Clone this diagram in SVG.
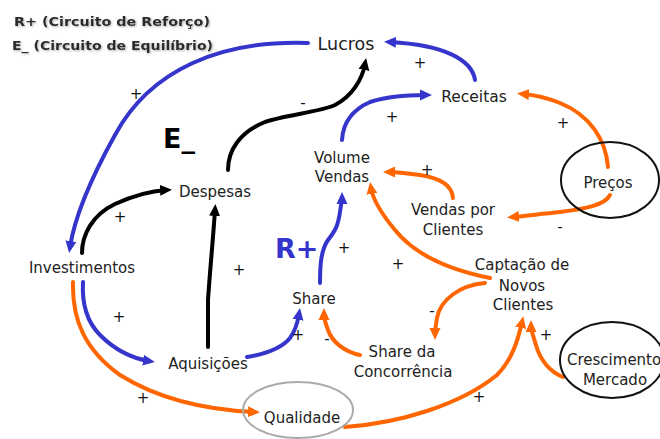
<svg xmlns="http://www.w3.org/2000/svg" width="660" height="439" viewBox="0 0 660 439">
<style>
.t{font-family:"DejaVu Sans","Liberation Sans",sans-serif;font-size:15px;fill:#222;text-anchor:middle}
.s{font-family:"DejaVu Sans","Liberation Sans",sans-serif;font-size:15px;fill:#111;text-anchor:middle}
.c{fill:none;stroke-width:4;stroke-linecap:round;stroke-linejoin:round}
.b{stroke:#3535cc}
.o{stroke:#ff6600}
.k{stroke:#000}
.leg{font-family:"DejaVu Sans","Liberation Sans",sans-serif;font-size:13px;font-weight:bold;fill:#2a2a2a}
.big{font-family:"DejaVu Sans","Liberation Sans",sans-serif;font-size:27px;font-weight:bold}
</style>
<defs>
<marker id="ab" markerUnits="userSpaceOnUse" markerWidth="12" markerHeight="12" refX="6" refY="6" orient="auto"><path d="M0,0.5 L12,6 L0,11.5 z" fill="#3535cc"/></marker>
<marker id="ao" markerUnits="userSpaceOnUse" markerWidth="12" markerHeight="12" refX="6" refY="6" orient="auto"><path d="M0,0.5 L12,6 L0,11.5 z" fill="#ff6600"/></marker>
<marker id="ak" markerUnits="userSpaceOnUse" markerWidth="12" markerHeight="12" refX="6" refY="6" orient="auto"><path d="M0,0.5 L12,6 L0,11.5 z" fill="#000"/></marker>
<filter id="sh" x="-5%" y="-30%" width="110%" height="160%"><feDropShadow dx="1" dy="1" stdDeviation="0.8" flood-color="#888" flood-opacity="0.7"/></filter>
</defs>
<rect width="660" height="439" fill="#fff"/>
<g id="legend" filter="url(#sh)">
<text class="leg" x="14" y="26" textLength="196" lengthAdjust="spacingAndGlyphs">R+ (Circuito de Reforço)</text>
<text class="leg" x="12" y="50" textLength="201" lengthAdjust="spacingAndGlyphs">E_ (Circuito de Equilíbrio)</text>
</g>
<g id="loop-labels">
<text class="big" x="163" y="148" fill="#000">E_</text>
<text class="big" x="275" y="258" fill="#3535cc">R+</text>
</g>
<g id="connectors">
<path class="c b" marker-end="url(#ab)" d="M 308 43 C 220 40, 150 70, 115 135 C 90 180, 75 215, 70 247"/>
<path class="c b" marker-end="url(#ab)" d="M 475 80 C 472 60, 445 45, 390 42"/>
<path class="c k" marker-end="url(#ak)" d="M 228 170 C 228 150, 240 132, 265 122 C 285 115, 320 112, 335 105 C 352 96, 362 80, 365 64"/>
<path class="c b" marker-end="url(#ab)" d="M 342 140 C 343 122, 352 110, 370 102 C 385 97, 405 95, 426 95"/>
<path class="c o" marker-end="url(#ao)" d="M 608 167 C 606 140, 590 115, 560 103 C 545 97, 535 95, 523 94"/>
<path class="c o" marker-end="url(#ao)" d="M 610 195 C 605 205, 585 209, 560 212 C 540 214, 525 216, 513 217"/>
<path class="c o" marker-end="url(#ao)" d="M 453 198 C 452 185, 440 178, 420 175 C 405 173, 395 172, 389 172"/>
<path class="c o" marker-end="url(#ao)" d="M 490 278 C 450 270, 415 255, 395 230 C 380 212, 373 200, 371 188"/>
<path class="c o" marker-end="url(#ao)" d="M 485 283 C 460 285, 440 300, 437 318 C 436 325, 435 330, 435 334"/>
<path class="c o" marker-end="url(#ao)" d="M 360 355 C 345 352, 332 342, 328 330 C 325 322, 324 318, 324 314"/>
<path class="c b" marker-end="url(#ab)" d="M 320 283 C 320 265, 321 250, 328 240 C 336 230, 338 225, 340 212 C 341 205, 342 200, 342 198"/>
<path class="c b" marker-end="url(#ab)" d="M 247 357 C 265 354, 282 348, 290 338 C 296 330, 298 320, 299 314"/>
<path class="c k" marker-end="url(#ak)" d="M 208 347 L 208 300 C 210 270, 213 240, 215 210"/>
<path class="c k" marker-end="url(#ak)" d="M 82 253 C 82 235, 92 215, 115 204 C 135 195, 150 191, 166 190"/>
<path class="c b" marker-end="url(#ab)" d="M 83 282 C 82 300, 85 320, 100 335 C 115 350, 130 358, 149 361"/>
<path class="c o" marker-end="url(#ao)" d="M 73 282 C 72 320, 85 350, 120 375 C 160 400, 210 410, 254 412"/>
<path class="c o" marker-end="url(#ao)" d="M 345 427 C 400 423, 460 405, 497 375 C 512 360, 518 340, 522 322"/>
<path class="c o" marker-end="url(#ao)" d="M 563 377 C 550 372, 540 360, 536 345 C 533 335, 531 330, 531 326"/>
</g>
<g id="signs">
<text class="s" x="136" y="99">+</text>
<text class="s" x="420" y="68">+</text>
<text class="s" x="303" y="108">-</text>
<text class="s" x="392" y="122">+</text>
<text class="s" x="563" y="128">+</text>
<text class="s" x="560" y="232">-</text>
<text class="s" x="427" y="175">+</text>
<text class="s" x="398" y="269">+</text>
<text class="s" x="344" y="253">+</text>
<text class="s" x="432" y="316">-</text>
<text class="s" x="327" y="344">-</text>
<text class="s" x="298" y="340">+</text>
<text class="s" x="239" y="275">+</text>
<text class="s" x="120" y="222">+</text>
<text class="s" x="119" y="322">+</text>
<text class="s" x="143" y="403">+</text>
<text class="s" x="479" y="402">+</text>
<text class="s" x="546" y="340">+</text>
</g>
<g id="lucros"><text class="t" x="346" y="50" style="font-size:17.5px">Lucros</text></g>
<g id="receitas"><text class="t" x="474" y="102" style="font-size:15.5px">Receitas</text></g>
<g id="volume-vendas"><text class="t" x="342" y="163">Volume</text><text class="t" x="342" y="182">Vendas</text></g>
<g id="despesas"><text class="t" x="215" y="197">Despesas</text></g>
<g id="investimentos"><text class="t" x="82" y="273">Investimentos</text></g>
<g id="share"><text class="t" x="314" y="304">Share</text></g>
<g id="aquisicoes"><text class="t" x="208" y="369">Aquisições</text></g>
<g id="qualidade"><ellipse cx="298" cy="410" rx="55" ry="28" fill="none" stroke="#aaa" stroke-width="2"/><text class="t" x="302" y="423">Qualidade</text></g>
<g id="share-concorrencia"><text class="t" x="402" y="357">Share da</text><text class="t" x="403" y="377">Concorrência</text></g>
<g id="captacao"><text class="t" x="522" y="270">Captação de</text><text class="t" x="522" y="291">Novos</text><text class="t" x="523" y="310">Clientes</text></g>
<g id="vendas-por-clientes"><text class="t" x="453" y="215">Vendas por</text><text class="t" x="453" y="235">Clientes</text></g>
<g id="precos"><ellipse cx="610" cy="180" rx="49" ry="38" fill="none" stroke="#111" stroke-width="2"/><text class="t" x="608" y="188">Preços</text></g>
<g id="crescimento"><ellipse cx="612" cy="360" rx="52" ry="38" fill="none" stroke="#111" stroke-width="2"/><text class="t" x="567" y="365" style="text-anchor:start">Crescimento</text><text class="t" x="615" y="385">Mercado</text></g>
</svg>
